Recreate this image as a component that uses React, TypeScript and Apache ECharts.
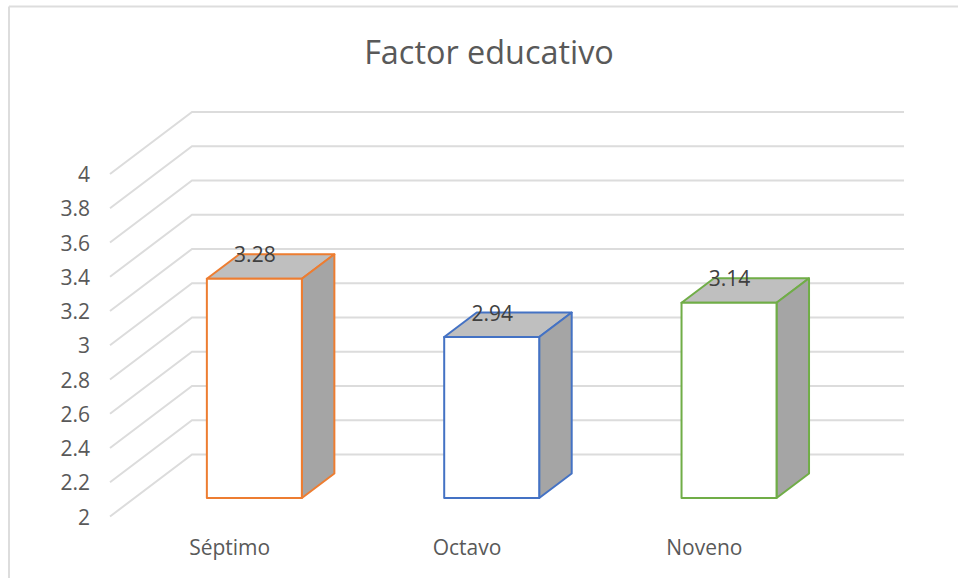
import React, { useEffect, useRef } from "react";
import * as echarts from "echarts";

const titleText = "Factor educativo";
const categories = ["Séptimo", "Octavo", "Noveno"];
const values = [3.28, 2.94, 3.14];
const edgeColors = ["#ED7D31", "#4472C4", "#70AD47"];
const gridValues = [2, 2.2, 2.4, 2.6, 2.8, 3, 3.2, 3.4, 3.6, 3.8, 4];

const FONT = "'Open Sans', sans-serif";
const WALL_DX = 82;
const WALL_DY = -62;
const BAR_DX = 25.7;
const BAR_DY = -18.5;
const BAR_W = 95;
const DEPTH_X = 32.5;
const DEPTH_Y = -24.5;

export default function App() {
  const ref = useRef<HTMLDivElement>(null);
  useEffect(() => {
    const chart = echarts.init(ref.current!, null, { renderer: "svg" });
    chart.setOption({
      animation: false,
      backgroundColor: "#FFFFFF",
      title: {
        text: titleText,
        left: 484,
        top: 30,
        textAlign: "center",
        textStyle: { fontFamily: FONT, fontSize: 32.4, fontWeight: "normal", color: "#595959" },
      },
      grid: { left: 110, top: 174, width: 712, height: 342.5 },
      xAxis: {
        type: "category",
        data: categories,
        axisLine: { show: false },
        axisTick: { show: false },
        axisLabel: { fontFamily: FONT, fontSize: 21, color: "#595959", margin: 20, padding: [0, 0, 0, 2] },
      },
      yAxis: {
        type: "value",
        min: 2,
        max: 4,
        interval: 0.2,
        splitLine: { show: false },
        axisLine: { show: false },
        axisTick: { show: false },
        axisLabel: { fontFamily: FONT, fontSize: 21, color: "#595959", margin: 20, padding: [1, 0, 0, 0] },
      },
      graphic: [
        { type: "line", shape: { x1: 9, y1: 6.5, x2: 958, y2: 6.5 }, style: { stroke: "#DDDDDD", lineWidth: 2 } },
        { type: "line", shape: { x1: 9, y1: 6.5, x2: 9, y2: 578 }, style: { stroke: "#DDDDDD", lineWidth: 2 } },
      ],
      series: [
        {
          type: "custom",
          z: 1,
          silent: true,
          data: gridValues.map((v) => [0, v]),
          renderItem: (params: any, api: any) => {
            const p = api.coord([0, api.value(1)]);
            const x0 = params.coordSys.x;
            const x1 = x0 + params.coordSys.width;
            return {
              type: "polyline",
              shape: { points: [[x0, p[1]], [x0 + WALL_DX, p[1] + WALL_DY], [x1 + WALL_DX, p[1] + WALL_DY]] },
              style: { fill: "none", stroke: "#DCDCDC", lineWidth: 2 },
            };
          },
        },
        {
          type: "custom",
          z: 2,
          silent: true,
          data: values.map((v, i) => [i, v]),
          renderItem: (params: any, api: any) => {
            const i = api.value(0);
            const top = api.coord([i, api.value(1)]);
            const base = api.coord([i, 2]);
            const l = top[0] + BAR_DX - BAR_W / 2;
            const r = l + BAR_W;
            const t = top[1] + BAR_DY;
            const b = base[1] + BAR_DY;
            const stroke = edgeColors[i];
            const lineStyle = { stroke, lineWidth: 2, lineJoin: "round" };
            return {
              type: "group",
              children: [
                {
                  type: "polygon",
                  shape: { points: [[l, t], [r, t], [r + DEPTH_X, t + DEPTH_Y], [l + DEPTH_X, t + DEPTH_Y]] },
                  style: { fill: "#BFBFBF", ...lineStyle },
                },
                {
                  type: "polygon",
                  shape: { points: [[r, t], [r + DEPTH_X, t + DEPTH_Y], [r + DEPTH_X, b + DEPTH_Y], [r, b]] },
                  style: { fill: "#A5A5A5", ...lineStyle },
                },
                {
                  type: "rect",
                  shape: { x: l, y: t, width: BAR_W, height: b - t },
                  style: { fill: "#FFFFFF", ...lineStyle },
                },
                {
                  type: "text",
                  x: (l + r) / 2 + 0.5,
                  y: t + DEPTH_Y,
                  style: {
                    text: String(api.value(1)),
                    fontFamily: FONT,
                    fontSize: 21,
                    fill: "#404040",
                    align: "center",
                    verticalAlign: "middle",
                  },
                },
              ],
            };
          },
        },
      ],
    });
    return () => chart.dispose();
  }, []);
  return <div ref={ref} style={{ position: "fixed", left: 0, top: 0, width: 958, height: 578 }} />;
}
